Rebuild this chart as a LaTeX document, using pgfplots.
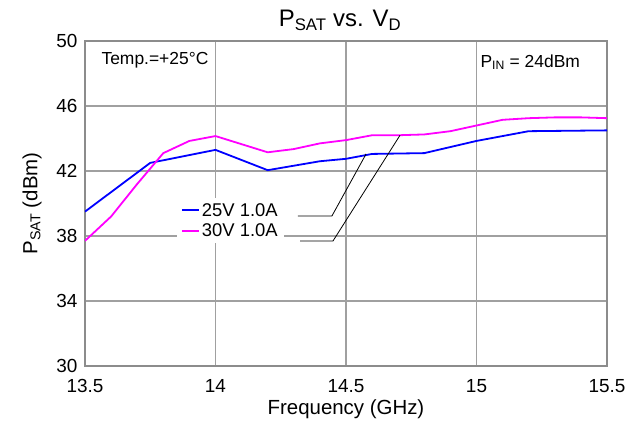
\documentclass[border=0pt]{standalone}
\usepackage{pgfplots}
\pgfplotsset{compat=1.18}
\usepackage{fontspec}
\setmainfont{Liberation Sans}
\setsansfont{Liberation Sans}
\definecolor{gridgray}{RGB}{160,160,160}
\definecolor{boxgray}{RGB}{140,140,140}
\definecolor{myblue}{RGB}{0,0,255}
\definecolor{mymag}{RGB}{255,0,255}
\begin{document}
\begin{tikzpicture}
\begin{axis}[
  scale only axis,
  width=522bp, height=325bp,
  xmin=13.5, xmax=15.5, ymin=30, ymax=50,
  xtick={13.5,14,14.5,15,15.5},
  xticklabels={13.5,14,14.5,15,15.5},
  ytick={30,34,38,42,46,50},
  yticklabels={30,34,38,42,46,50},
  major tick length=0pt,
  grid=major,
  major grid style={gridgray, line width=1.2bp},
  axis line style={boxgray, line width=2bp},
  tick label style={font=\fontsize{19}{22}\selectfont, text=black},
  xticklabel style={yshift=-10bp},
  yticklabel style={xshift=-4bp},
  xlabel={Frequency (GHz)},
  ylabel={P\textsubscript{SAT} (dBm)},
  label style={font=\fontsize{20.5}{24}\selectfont},
  xlabel style={yshift=0bp},
  ylabel style={yshift=8bp},
  title={P\textsubscript{SAT} vs. V\textsubscript{D}},
  title style={font=\fontsize{24}{27}\selectfont, xshift=-6bp, yshift=1bp},
  legend style={at={(rel axis cs:0.176,0.517)}, anchor=north west, draw=none, fill=white,
    font=\fontsize{18.5}{21}\selectfont, row sep=2bp, inner xsep=4bp, inner ysep=3bp},
  legend cell align=left,
  legend image code/.code={\draw[#1] (0bp,0bp) -- (17bp,0bp);},
]
\addplot[myblue, line width=1.8bp] coordinates {
 (13.5,39.5) (13.75,42.5) (14.0,43.3) (14.2,42.05) (14.4,42.6) (14.5,42.75)
 (14.6,43.05) (14.8,43.1) (15.0,43.85) (15.2,44.45) (15.5,44.5)};
\addlegendentry{25V 1.0A}
\addplot[mymag, line width=1.8bp] coordinates {
 (13.5,37.7) (13.6,39.2) (13.7,41.2) (13.8,43.1) (13.9,43.85) (14.0,44.15)
 (14.2,43.15) (14.3,43.35) (14.4,43.7) (14.5,43.9) (14.6,44.2) (14.7,44.2)
 (14.8,44.25) (14.9,44.45) (15.0,44.8) (15.1,45.15) (15.2,45.25) (15.3,45.3)
 (15.4,45.3) (15.5,45.25)};
\addlegendentry{30V 1.0A}
\draw[black, line width=0.8bp] (axis cs:14.316,39.23) -- (axis cs:14.446,39.23) -- (axis cs:14.577,43.05);
\draw[black, line width=0.8bp] (axis cs:14.324,37.69) -- (axis cs:14.450,37.69) -- (axis cs:14.707,44.2);
\node[anchor=west, font=\fontsize{17.5}{20}\selectfont] at (rel axis cs:0.025,0.94) {Temp.=+25°C};
\node[anchor=east, font=\fontsize{17.5}{20}\selectfont] at (rel axis cs:0.955,0.935) {P\textsubscript{IN} = 24dBm};
\end{axis}
\pgfresetboundingbox
\path ([xshift=-85bp,yshift=-55bp]current axis.south west) rectangle ([xshift=23bp,yshift=41bp]current axis.north east);
\end{tikzpicture}
\end{document}
